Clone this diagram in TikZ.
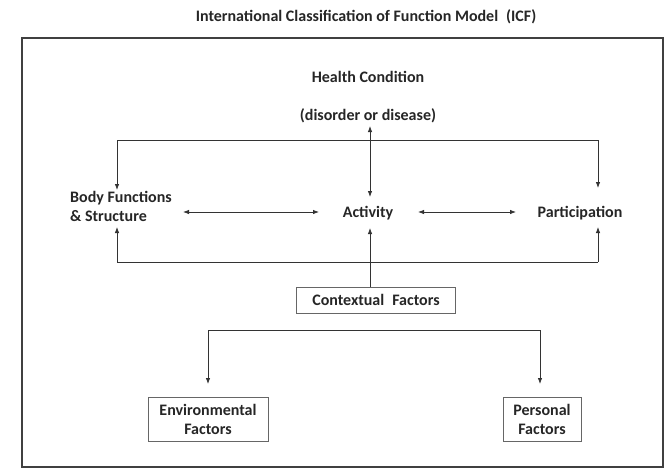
\documentclass[tikz,border=0pt]{standalone}
\usepackage{fontspec}
\setmainfont{Carlito}
\usetikzlibrary{arrows.meta}
\begin{document}
\begin{tikzpicture}[x=1pt,y=-1pt,
  lbl/.style={font=\bfseries\fontsize{16}{19}\selectfont, text=black!85, inner sep=1pt},
  boxed/.style={lbl, draw=black!60, line width=0.9pt, align=center, inner xsep=5pt, inner ysep=4pt},
  conn/.style={draw=black!80, line width=0.8pt},
  arr/.style={conn, -{Latex[length=6pt,width=4.5pt]}},
  darr/.style={conn, {Latex[length=6pt,width=4.5pt]}-{Latex[length=6pt,width=4.5pt]}}]
\useasboundingbox (0,0) rectangle (669,475);
\fill[white] (0,0) rectangle (669,475);
% outer frame
\draw[black!75, line width=2.2pt] (22,38) rectangle (663,467);
\node[lbl] (title) at (366,17) {International Classification of Function Model\enspace(ICF)};
\node[lbl] (hc) at (368,77) {Health Condition};
\node[lbl] (dis) at (368,116) {(disorder or disease)};
\node[lbl, align=left, anchor=west] (body) at (69,206) {Body Functions\\\& Structure};
\node[lbl] (act) at (368,213) {Activity};
\node[lbl] (part) at (580,213) {Participation};
\node[boxed, minimum width=159pt, minimum height=26pt] (ctx) at (376,300) {Contextual\enspace Factors};
\node[boxed, minimum width=120pt, minimum height=44pt] (env) at (208,419) {Environmental\\Factors};
\node[boxed, minimum width=78pt, minimum height=44pt] (pers) at (542,419) {Personal\\Factors};
% coordinates
\coordinate (tl) at (117,140);
\coordinate (tr) at (598,140);
\coordinate (bl) at (117,262);
\coordinate (br) at (598,262);
\coordinate (bodytop) at (117,190);
\coordinate (bodybot) at (117,227);
\coordinate (parttop) at (598,188);
\coordinate (partbot) at (598,227);
\coordinate (sl) at (208,330);
\coordinate (sr) at (540,330);
\coordinate (actlow) at (370,228);
\coordinate (acthigh) at (370,197);
\coordinate (dislow) at (370,126);
\coordinate (ctxtop) at (370,287);
\coordinate (bfr) at (183,212);
\coordinate (actl) at (319,212);
\coordinate (actr) at (418,212);
\coordinate (ptl) at (516,212);
\coordinate (envtop) at (208,384);
\coordinate (perstop) at (540,384);
% connectors
\draw[darr] (acthigh) -- (dislow);
\draw[conn] (tl) -- (tr);
\draw[arr] (tl) -- (bodytop);
\draw[arr] (tr) -- (parttop);
\draw[darr] (bfr) -- (actl);
\draw[darr] (actr) -- (ptl);
\draw[conn] (bl) -- (br);
\draw[arr] (bl) -- (bodybot);
\draw[arr] (br) -- (partbot);
\draw[arr] (ctxtop) -- (actlow);
\draw[conn] (sl) -- (sr);
\draw[arr] (sl) -- (envtop);
\draw[arr] (sr) -- (perstop);
\end{tikzpicture}
\end{document}
